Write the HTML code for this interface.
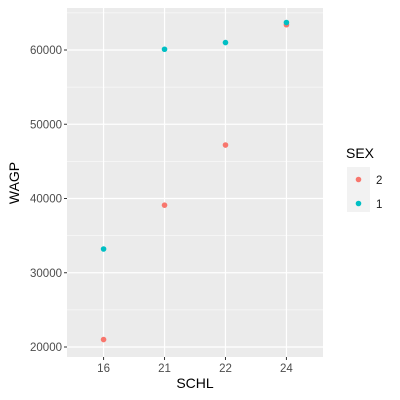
<!DOCTYPE html>
<html><head><meta charset="utf-8"><style>
body{margin:0;background:#fff;}
svg{display:block;font-family:"Liberation Sans",sans-serif;}
</style></head><body>
<svg id="chart" width="400" height="400">
<rect x="0" y="0" width="400" height="400" fill="#fff"/>
<rect id="panel" x="67" y="8" width="256" height="349" fill="#EBEBEB"/>
<g id="grid"></g>
<g id="points"></g>
<g id="axes"></g>
<text x="195" y="388" text-anchor="middle" font-size="14" fill="#000">SCHL</text>
<text x="19" y="183" text-anchor="middle" font-size="14" fill="#000" transform="rotate(-90 19 183)">WAGP</text>
<g>
<text x="346" y="158" font-size="14" fill="#000">SEX</text>
<rect x="347" y="167" width="23" height="45" fill="#F2F2F2"/>
<circle cx="358.5" cy="179.5" r="2.8" fill="#F8766D"/>
<circle cx="358.5" cy="203.5" r="2.8" fill="#00BFC4"/>
<text x="376" y="184" font-size="11.5" fill="#1a1a1a">2</text>
<text x="376" y="208" font-size="11.5" fill="#1a1a1a">1</text>
</g>
</svg>
<script>
const categories = ["16","21","22","24"];
const sex2Values = [21000, 39100, 47200, 63400];
const sex1Values = [33200, 60100, 61000, 63700];
const yTicks = [20000, 30000, 40000, 50000, 60000];

const NS = "http://www.w3.org/2000/svg";
const px0 = 67, pw = 256, py0 = 8, ph = 349;
const step = pw / (categories.length - 1 + 1.2);
function xScale(i){ return px0 + (0.6 + i) * step; }
function yScale(v){ return 347 - (v - 20000) * (297 / 40000); }
function mk(tag, attrs, parent){
  const e = document.createElementNS(NS, tag);
  for (const k in attrs) e.setAttribute(k, attrs[k]);
  parent.appendChild(e); return e;
}
const grid = document.getElementById('grid');
const axes = document.getElementById('axes');
const pts = document.getElementById('points');
for (let i = 0; i < yTicks.length - 1; i++) {
  const y = yScale((yTicks[i] + yTicks[i+1]) / 2);
  const l = mk('line', {x1:px0, x2:px0+pw, y1:y, y2:y, stroke:'#fff', 'stroke-width':0.6}, grid);
  
  
}
{
  const y = yScale(yTicks[yTicks.length-1] + 5000);
  const l = mk('line', {x1:px0, x2:px0+pw, y1:y, y2:y, stroke:'#fff', 'stroke-width':0.6}, grid);
  
  
}
yTicks.forEach(t => {
  const y = yScale(t);
  const l = mk('line', {x1:px0, x2:px0+pw, y1:y, y2:y, stroke:'#fff', 'stroke-width':1.2}, grid);
  
  
  const tk = mk('line', {x1:px0-3, x2:px0, y1:y, y2:y, stroke:'#333', 'stroke-width':1}, axes);
  
  
  const tx = mk('text', {x:px0-5, y:y+4, 'text-anchor':'end', 'font-size':11.5, fill:'#4d4d4d'}, axes);
  tx.textContent = t;
  
  
});
categories.forEach((c, i) => {
  const x = xScale(i);
  const l = mk('line', {x1:x, x2:x, y1:py0, y2:py0+ph, stroke:'#fff', 'stroke-width':1.2}, grid);
  
  
  const tk = mk('line', {x1:x, x2:x, y1:py0+ph, y2:py0+ph+3, stroke:'#333', 'stroke-width':1}, axes);
  
  
  const tx = mk('text', {x:x, y:py0+ph+15, 'text-anchor':'middle', 'font-size':11.5, fill:'#4d4d4d'}, axes);
  tx.textContent = c;
  
  
});
categories.forEach((c, i) => {
  const p2 = mk('circle', {cx:xScale(i), cy:yScale(sex2Values[i]), r:2.8, fill:'#F8766D'}, pts);
  
  
});
categories.forEach((c, i) => {
  const p1 = mk('circle', {cx:xScale(i), cy:yScale(sex1Values[i]), r:2.8, fill:'#00BFC4'}, pts);
  
  
});
</script>
</body></html>
